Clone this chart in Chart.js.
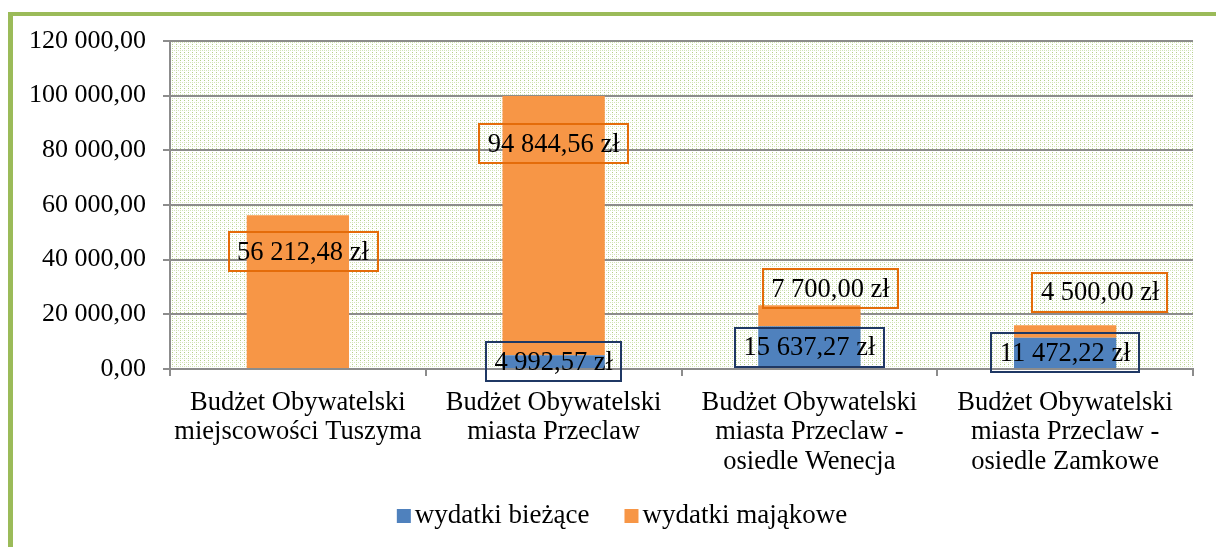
<!DOCTYPE html>
<html>
<head>
<meta charset="utf-8">
<script src="https://cdn.jsdelivr.net/npm/chart.js@4.4.1/dist/chart.umd.min.js"></script>
<style>
  html, body { margin: 0; padding: 0; background: #fff; }
</style>
</head>
<body>
<canvas id="budzetChart" width="1216" height="547"></canvas>
<script>
const categories = [
  ['Budżet Obywatelski', 'miejscowości Tuszyma'],
  ['Budżet Obywatelski', 'miasta Przeclaw'],
  ['Budżet Obywatelski', 'miasta Przeclaw -', 'osiedle Wenecja'],
  ['Budżet Obywatelski', 'miasta Przeclaw -', 'osiedle Zamkowe']
];
const seriesNames = ['wydatki bieżące', 'wydatki mająkowe'];
const wydatkiBiezace = [0, 4992.57, 15637.27, 11472.22];
const wydatkiMajatkowe = [56212.48, 94844.56, 7700.00, 4500.00];
const yTicks = [0, 20000, 40000, 60000, 80000, 100000, 120000];

const FONT = "'Liberation Serif', serif";
const GRID = '#8c8c8c';

// liczby w stylu polskim: 120 000,00
function fmt(v) {
    const parts = Math.abs(v).toFixed(2).split('.');
    return parts[0].replace(/\B(?=(\d{3})+(?!\d))/g, ' ') + ',' + parts[1];
}

// wzór kropek tła obszaru wykresu
function makePattern(ctx) {
    const c = document.createElement('canvas');
    c.width = 4; c.height = 4;
    const p = c.getContext('2d');
    p.fillStyle = '#ffffff';
    p.fillRect(0, 0, 4, 4);
    p.fillStyle = '#b3cf88';
    p.fillRect(0, 0, 1, 1);
    p.fillStyle = '#d3e4bb';
    p.fillRect(2, 2, 1, 1);
    p.fillRect(0, 2, 1, 1);
    return ctx.createPattern(c, 'repeat');
}

const backgroundPlugin = {
    id: 'tlo',
    beforeDraw(chart) {
        const { ctx, chartArea: a, width, height } = chart;
        ctx.save();
        // zielona ramka
        ctx.fillStyle = '#9bbb59';
        ctx.fillRect(8, 12, 5, height - 12);
        ctx.fillRect(8, 12, width - 8, 4);
        // kropkowane tło
        ctx.fillStyle = makePattern(ctx);
        ctx.fillRect(a.left, a.top, a.right - a.left, a.bottom - a.top);
        ctx.restore();
    }
};

// etykiety w ramkach (przesunięcia jak w oryginale)
const labelNudge = [
    [[0, 0], [0, 0], [0, 0], [0, 0]],
    [[5, -40], [0, -82], [21, -27], [35, -39]]
];
const labelBorder = ['#1f3864', '#e46c0a'];

const boxLabelsPlugin = {
    id: 'etykiety',
    afterDatasetsDraw(chart) {
        const ctx = chart.ctx;
        ctx.save();
        ctx.font = '26.5px ' + FONT;
        ctx.textAlign = 'center';
        ctx.textBaseline = 'middle';
        chart.data.datasets.forEach((ds, di) => {
            chart.getDatasetMeta(di).data.forEach((bar, i) => {
                const v = ds.data[i];
                if (!v) return;
                const txt = fmt(v) + ' zł';
                const cx = bar.x + labelNudge[di][i][0];
                const cy = (bar.y + bar.base) / 2 + labelNudge[di][i][1];
                const w = ctx.measureText(txt).width + 17;
                const h = 39;
                ctx.strokeStyle = labelBorder[di];
                ctx.lineWidth = 2;
                ctx.strokeRect(Math.round(cx - w / 2), Math.round(cy - h / 2), Math.round(w), h);
                ctx.fillStyle = '#000';
                ctx.fillText(txt, cx, cy + 1);
            });
        });
        ctx.restore();
    }
};

const legendPlugin = {
    id: 'legenda',
    afterDraw(chart) {
        const ctx = chart.ctx;
        ctx.save();
        ctx.font = '27px ' + FONT;
        ctx.textBaseline = 'middle';
        const items = chart.data.datasets.map(ds => ({
            text: ds.label, color: ds.backgroundColor, w: 18 + ctx.measureText(ds.label).width
        }));
        const gap = 35;
        const total = items.reduce((s, it) => s + it.w, 0) + gap * (items.length - 1);
        let x = chart.width / 2 + 14 - total / 2;
        const y = 516;
        items.forEach(it => {
            ctx.fillStyle = it.color;
            ctx.fillRect(x, y - 7, 14, 14);
            ctx.fillStyle = '#000';
            ctx.fillText(it.text, x + 18, y);
            x += it.w + gap;
        });
        ctx.restore();
    }
};

new Chart(document.getElementById('budzetChart').getContext('2d'), {
    type: 'bar',
    data: {
        labels: categories,
        datasets: [{
            label: seriesNames[0],
            data: wydatkiBiezace,
            backgroundColor: '#4f81bd',
            barPercentage: 1,
            categoryPercentage: 0.4
        }, {
            label: seriesNames[1],
            data: wydatkiMajatkowe,
            backgroundColor: '#f79646',
            barPercentage: 1,
            categoryPercentage: 0.4
        }]
    },
    options: {
        responsive: false,
        devicePixelRatio: 1,
        animation: false,
        layout: { padding: { top: 41, right: 23, bottom: 48, left: 0 } },
        plugins: {
            legend: { display: false },
            tooltip: { enabled: false }
        },
        scales: {
            x: {
                stacked: true,
                grid: { offset: true, drawOnChartArea: false, drawTicks: true, tickLength: 7, color: GRID, lineWidth: 2 },
                border: { color: GRID, width: 2 },
                ticks: {
                    color: '#000', padding: 12, maxRotation: 0, autoSkip: false,
                    font: { family: FONT, size: 26.5, lineHeight: 1.113 }
                },
                afterFit(s) { s.height = 130; }
            },
            y: {
                stacked: true,
                min: yTicks[0],
                max: yTicks[yTicks.length - 1],
                grid: { color: GRID, lineWidth: 2, tickLength: 7 },
                border: { color: GRID, width: 2 },
                ticks: {
                    stepSize: yTicks[1] - yTicks[0],
                    color: '#000', padding: 17,
                    font: { family: FONT, size: 26 },
                    callback: v => fmt(v)
                },
                afterFit(s) { s.width = 170; }
            }
        }
    },
    plugins: [backgroundPlugin, boxLabelsPlugin, legendPlugin]
});
</script>
</body>
</html>
